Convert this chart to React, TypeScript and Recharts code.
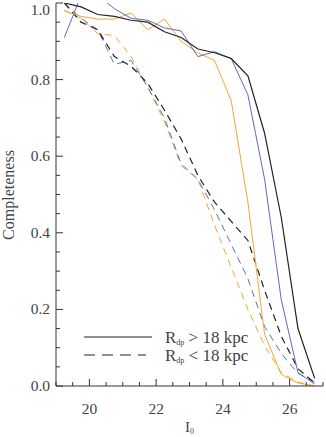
import React from "react";
import { LineChart, Line, XAxis, YAxis } from "recharts";

// magnitude bins (bin centres)
const mags = [19.25, 19.75, 20.25, 20.75, 21.25, 21.75, 22.25, 22.75, 23.25, 23.75, 24.25, 24.75, 25.25, 25.75, 26.25, 26.75];

// R_dp > 18 kpc (solid)
const blackOuter = [1.0, 0.99, 0.97, 0.965, 0.955, 0.95, 0.925, 0.91, 0.88, 0.87, 0.855, 0.81, 0.66, 0.44, 0.15, 0.02];
const blueOuter = [0.91, 1.02, 1.02, 0.985, 0.96, 0.955, 0.935, 0.927, 0.86, 0.873, 0.855, 0.76, 0.54, 0.225, 0.035, 0.005];
const orangeOuter = [0.98, 0.965, 0.958, 0.958, 0.974, 0.93, 0.958, 0.9, 0.87, 0.85, 0.745, 0.48, 0.135, 0.03, 0.008, 0.0];

// R_dp < 18 kpc (dashed)
const blackInner = [1.0, 0.95, 0.93, 0.86, 0.835, 0.79, 0.72, 0.645, 0.55, 0.48, 0.43, 0.38, 0.25, 0.13, 0.045, 0.008];
const blueInner = [1.0, 0.96, 0.93, 0.84, 0.85, 0.78, 0.7, 0.58, 0.54, 0.46, 0.37, 0.28, 0.155, 0.085, 0.033, 0.01];
const orangeInner = [0.98, 0.96, 0.92, 0.915, 0.86, 0.78, 0.69, 0.575, 0.54, 0.42, 0.31, 0.2, 0.105, 0.035, 0.01, 0.0];

const xTicks = [19, 19.5, 20, 20.5, 21, 21.5, 22, 22.5, 23, 23.5, 24, 24.5, 25, 25.5, 26, 26.5, 27];
const xLabels = [20, 22, 24, 26];
const yTicks = [0, 0.05, 0.1, 0.15, 0.2, 0.25, 0.3, 0.35, 0.4, 0.45, 0.5, 0.55, 0.6, 0.65, 0.7, 0.75, 0.8, 0.85, 0.9, 0.95, 1.0];
const yLabels = [0, 0.2, 0.4, 0.6, 0.8, 1.0];

const data = mags.map((m, i) => ({
  mag: m,
  blackOuter: blackOuter[i],
  blueOuter: blueOuter[i],
  orangeOuter: orangeOuter[i],
  blackInner: blackInner[i],
  blueInner: blueInner[i],
  orangeInner: orangeInner[i],
}));

const FONT = "'Liberation Serif', 'DejaVu Serif', serif";
const AXIS = "#333";
const TEXT = "#444";
const BLACK = "#222";
const BLUE = "#5a6cc0";
const ORANGE = "#f6a630";

const isLabel = (list: number[], v: number) => list.some((l) => Math.abs(l - v) < 1e-6);

const BottomTick = ({ x, y, payload }: any) => {
  const major = isLabel(xLabels, payload.value);
  return (
    <g>
      <line x1={x} x2={x} y1={y} y2={y - (major ? 7 : 4)} stroke={AXIS} />
      {major && (
        <text x={x} y={y + 28} textAnchor="middle" fontFamily={FONT} fontSize={15.5} fill={TEXT}>
          {payload.value}
        </text>
      )}
    </g>
  );
};

const TopTick = ({ x, y, payload }: any) => {
  const major = isLabel(xLabels, payload.value);
  return <line x1={x} x2={x} y1={y} y2={y + (major ? 7 : 4)} stroke={AXIS} />;
};

const LeftTick = ({ x, y, payload }: any) => {
  const major = isLabel(yLabels, payload.value);
  const v = payload.value;
  return (
    <g>
      <line x1={x} x2={x + (major ? 7 : 4)} y1={y} y2={y} stroke={AXIS} />
      {major && (
        <text
          x={x - 6}
          y={y + (v === 1 ? 7 : 0)}
          dy={5}
          textAnchor="end"
          fontFamily={FONT}
          fontSize={15.5}
          fill={TEXT}
        >
          {v.toFixed(1)}
        </text>
      )}
    </g>
  );
};

const RightTick = ({ x, y, payload }: any) => {
  const major = isLabel(yLabels, payload.value);
  return <line x1={x} x2={x - (major ? 7 : 4)} y1={y} y2={y} stroke={AXIS} />;
};

const Overlay = () => (
  <svg width={326} height={437} style={{ position: "absolute", left: 0, top: 0, pointerEvents: "none" }}>
    <text
      transform="translate(14,195) rotate(-90)"
      textAnchor="middle"
      fontFamily={FONT}
      fontSize={16}
      fill={TEXT}
    >
      Completeness
    </text>
    <text x={185} y={432} fontFamily={FONT} fontSize={15} fill={TEXT}>
      I
      <tspan fontSize={8} dy={2}>0</tspan>
    </text>
    <line x1={84} x2={152} y1={337} y2={337} stroke={BLACK} strokeWidth={1.2} />
    <line x1={84} x2={146} y1={355} y2={355} stroke={BLACK} strokeWidth={1.2} strokeDasharray="11 7" />
    <text x={165} y={343} fontFamily={FONT} fontSize={17} fill={TEXT}>
      R<tspan fontSize={8} dy={2}>dp</tspan>
      <tspan dy={-2}> &gt; 18 kpc</tspan>
    </text>
    <text x={165} y={361} fontFamily={FONT} fontSize={17} fill={TEXT}>
      R<tspan fontSize={8} dy={2}>dp</tspan>
      <tspan dy={-2}> &lt; 18 kpc</tspan>
    </text>
  </svg>
);

const App = () => {
  return (
    <div style={{ position: "absolute", left: 0, top: 0, width: 326, height: 437, background: "#fff" }}>
      <LineChart width={326} height={437} data={data} margin={{ top: 3, right: 3, left: 0, bottom: 0 }}>
        <XAxis
          dataKey="mag"
          type="number"
          domain={[19, 27]}
          ticks={xTicks}
          interval={0}
          height={51}
          tickSize={0}
          tickMargin={0}
          tick={<BottomTick />}
          axisLine={{ stroke: AXIS }}
          tickLine={false}
          allowDataOverflow
        />
        <XAxis
          xAxisId="top"
          orientation="top"
          dataKey="mag"
          type="number"
          domain={[19, 27]}
          ticks={xTicks}
          interval={0}
          height={0}
          tickSize={0}
          tickMargin={0}
          tick={<TopTick />}
          axisLine={{ stroke: AXIS }}
          tickLine={false}
          allowDataOverflow
        />
        <YAxis
          type="number"
          domain={[0, 1]}
          ticks={yTicks}
          interval={0}
          width={56}
          tickSize={0}
          tickMargin={0}
          tick={<LeftTick />}
          axisLine={{ stroke: AXIS }}
          tickLine={false}
          allowDataOverflow
        />
        <YAxis
          yAxisId="r"
          orientation="right"
          type="number"
          domain={[0, 1]}
          ticks={yTicks}
          interval={0}
          width={0}
          tickSize={0}
          tickMargin={0}
          tick={<RightTick />}
          axisLine={{ stroke: AXIS }}
          tickLine={false}
          allowDataOverflow
        />
        <Line type="linear" dataKey="orangeInner" stroke={ORANGE} strokeWidth={1} strokeDasharray="7 5" dot={false} isAnimationActive={false} />
        <Line type="linear" dataKey="blueInner" stroke={BLUE} strokeWidth={1} strokeDasharray="7 5" dot={false} isAnimationActive={false} />
        <Line type="linear" dataKey="blackInner" stroke={BLACK} strokeWidth={1.2} strokeDasharray="7 5" dot={false} isAnimationActive={false} />
        <Line type="linear" dataKey="orangeOuter" stroke={ORANGE} strokeWidth={1} dot={false} isAnimationActive={false} />
        <Line type="linear" dataKey="blueOuter" stroke={BLUE} strokeWidth={1} dot={false} isAnimationActive={false} />
        <Line type="linear" dataKey="blackOuter" stroke={BLACK} strokeWidth={1.2} dot={false} isAnimationActive={false} />
      </LineChart>
      <Overlay />
    </div>
  );
};

export default App;
